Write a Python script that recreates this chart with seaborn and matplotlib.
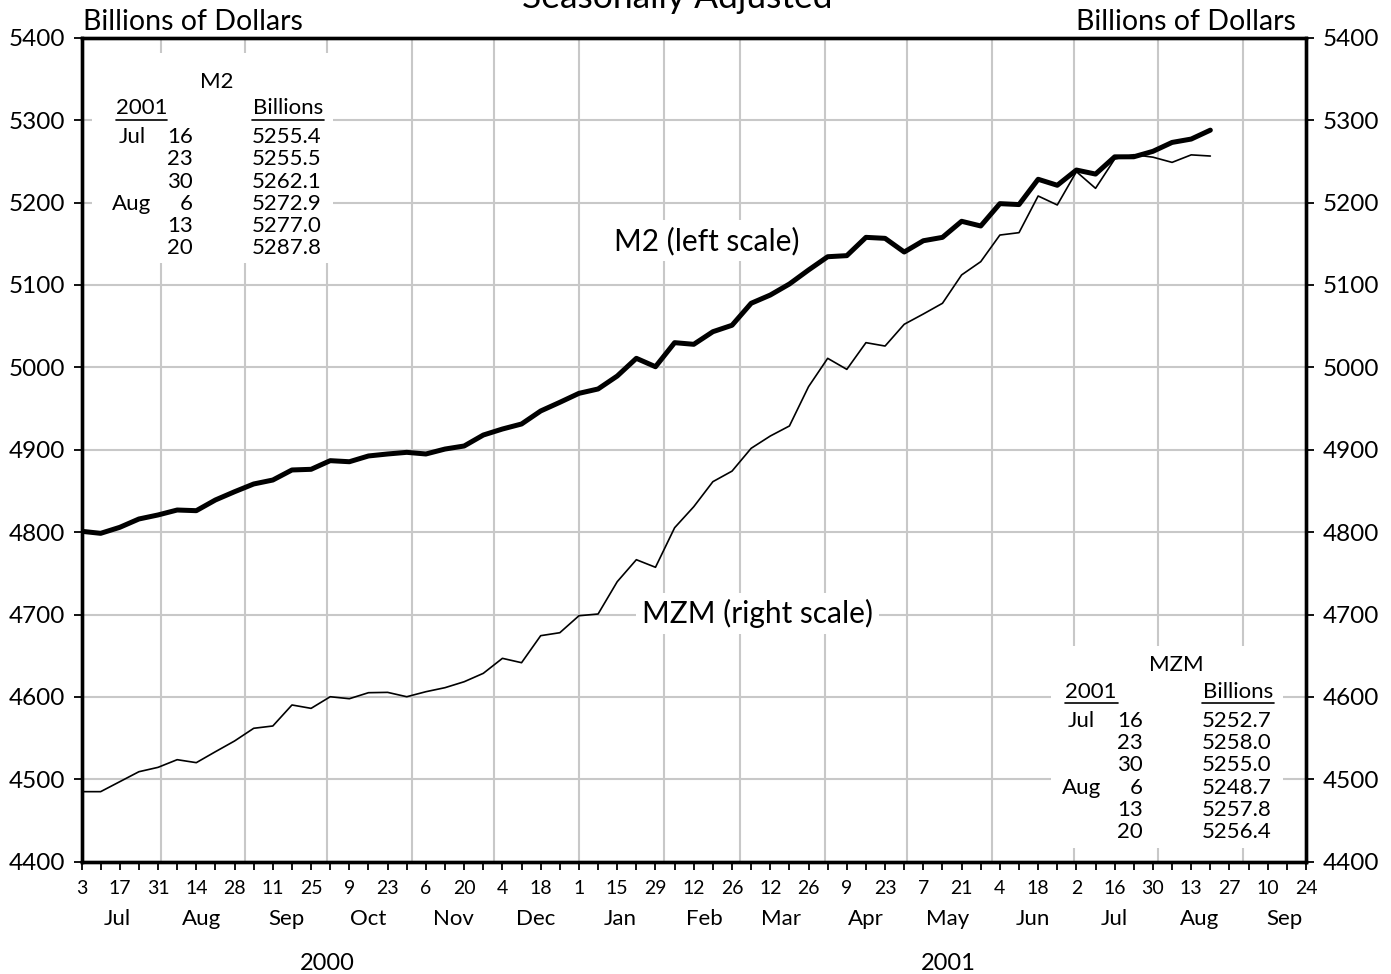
import matplotlib
matplotlib.use("Agg")
import matplotlib.pyplot as plt
import matplotlib.dates as mdates
import matplotlib.ticker as mticker
from matplotlib.lines import Line2D
from matplotlib.patches import Rectangle
import pandas as pd
import seaborn as sns

# weekly levels, billions of dollars, weeks ending Mondays from 2000-07-03
m2_values = [
    4801.0, 4798.5, 4805.8, 4815.9, 4820.8, 4826.8, 4826.0, 4839.0, 4849.0, 4858.4,
    4863.2, 4875.4, 4876.2, 4886.7, 4885.4, 4892.4, 4894.8, 4896.8, 4894.8, 4900.8,
    4904.5, 4917.8, 4925.1, 4931.2, 4947.0, 4957.5, 4968.4, 4973.7, 4989.4, 5010.9,
    5000.7, 5029.9, 5027.9, 5043.2, 5051.0, 5077.7, 5087.7, 5101.1, 5118.1, 5134.2,
    5135.5, 5157.7, 5156.5, 5139.9, 5153.6, 5157.7, 5177.2, 5171.5, 5198.6, 5197.5,
    5228.2, 5220.9, 5239.4, 5234.5, 5255.4, 5255.5, 5262.1, 5272.9, 5277.0, 5287.8,
]
mzm_values = [
    4485.0, 4485.0, 4497.1, 4509.2, 4514.5, 4523.8, 4520.2, 4533.5, 4546.5, 4561.9,
    4564.7, 4590.2, 4586.1, 4600.2, 4597.8, 4605.1, 4605.5, 4600.2, 4606.3, 4611.2,
    4618.4, 4628.6, 4646.8, 4641.5, 4674.3, 4677.9, 4698.5, 4700.6, 4739.8, 4766.5,
    4757.3, 4805.3, 4830.8, 4861.2, 4874.0, 4901.7, 4916.6, 4928.8, 4976.5, 5010.9,
    4997.5, 5029.9, 5025.8, 5052.2, 5064.7, 5077.7, 5112.1, 5128.2, 5160.5, 5163.4,
    5207.9, 5197.0, 5237.4, 5217.2, 5252.7, 5258.0, 5255.0, 5248.7, 5257.8, 5256.4,
]
weeks = pd.date_range("2000-07-03", periods=len(m2_values), freq="W-MON")

table_months = ["Jul", "", "", "Aug", "", ""]
table_days = ["16", "23", "30", "6", "13", "20"]
m2_table = ["5255.4", "5255.5", "5262.1", "5272.9", "5277.0", "5287.8"]
mzm_table = ["5252.7", "5258.0", "5255.0", "5248.7", "5257.8", "5256.4"]

month_names = ["Jul", "Aug", "Sep", "Oct", "Nov", "Dec", "Jan", "Feb", "Mar",
               "Apr", "May", "Jun", "Jul", "Aug", "Sep"]
year_labels = ["2000", "2001"]
year_centers = [pd.Timestamp("2000-10-01"), pd.Timestamp("2001-05-16")]

x_start, x_end = pd.Timestamp("2000-07-03"), pd.Timestamp("2001-09-24")
y_ticks = list(range(4400, 5401, 100))

W, H = 1391, 974
GRID = "#c8c8c8"


def fx(px):
    return px / W


def fy(py):
    return 1 - py / H


sns.set_style("ticks")
plt.rcParams["font.family"] = ["Lato", "DejaVu Sans"]
plt.rcParams["font.weight"] = "normal"
for key in ("text.color", "xtick.color", "ytick.color", "axes.labelcolor"):
    plt.rcParams[key] = "black"

fig = plt.figure(figsize=(W / 100, H / 100), dpi=100)
ax = fig.add_axes([fx(81.5), fy(861.7), fx(1306) - fx(81.5), fy(37.7) - fy(861.7)])
ax2 = ax.twinx()

sns.lineplot(x=weeks, y=m2_values, ax=ax, color="black", linewidth=3.6, zorder=4)
sns.lineplot(x=weeks, y=mzm_values, ax=ax2, color="black", linewidth=1.2, zorder=4)

for a in (ax, ax2):
    a.set_ylim(4400, 5400)
    a.set_yticks(y_ticks)
    a.set_ylabel("")
    a.set_xlabel("")
ax.set_xlim(x_start, x_end)
ax.set_axisbelow(True)
ax.yaxis.grid(True, color=GRID, linewidth=1.5)
for m in pd.date_range("2000-08-01", "2001-09-01", freq="MS"):
    ax.axvline(m, color=GRID, linewidth=1.5, zorder=0.5)

ax.xaxis.set_major_locator(mticker.FixedLocator(
    mdates.date2num(pd.date_range(x_start, x_end, freq="2W-MON"))))
ax.xaxis.set_minor_locator(mticker.FixedLocator(
    mdates.date2num(pd.date_range(x_start, x_end, freq="W-MON"))))
ax.xaxis.set_major_formatter(mticker.FuncFormatter(
    lambda v, p: str(mdates.num2date(v).day)))

ax.tick_params(axis="x", which="both", direction="out", length=6, width=1.3,
               pad=7, labelsize=14)
ax.tick_params(axis="y", direction="out", length=6, width=1.3, pad=6,
               labelsize=17.5, left=True, right=False)
ax2.tick_params(axis="y", direction="out", length=6, width=1.3, pad=6,
                labelsize=17.5, right=True)
for a in (ax, ax2):
    for s in a.spines.values():
        s.set_visible(True)
        s.set_linewidth(2.4)
        s.set_color("black")

xtrans = ax.get_xaxis_transform()
for i, name in enumerate(month_names):
    pos = pd.Timestamp("2000-07-01") + pd.DateOffset(months=i, days=15)
    ax.text(pos, -0.077, name, transform=xtrans, ha="center", va="baseline", fontsize=16)
for lab, pos in zip(year_labels, year_centers):
    ax.text(pos, -0.131, lab, transform=xtrans, ha="center", va="baseline", fontsize=17)

fig.text(fx(677), fy(8.5), "Seasonally Adjusted", ha="center", va="baseline", fontsize=25.5)
fig.text(fx(83), fy(30), "Billions of Dollars", ha="left", va="baseline", fontsize=20.5)
fig.text(fx(1296), fy(30), "Billions of Dollars", ha="right", va="baseline", fontsize=20.5)

box = dict(boxstyle="square,pad=0.2", facecolor="white", edgecolor="none")
fig.text(fx(706.7), fy(250), "M2 (left scale)", ha="center", va="baseline",
         fontsize=21.5, bbox=box)
fig.text(fx(757.7), fy(623.3), "MZM (right scale)", ha="center", va="baseline",
         fontsize=21.5, bbox=box)


def value_table(title, values, left, top, right, bottom, title_x, title_y,
                month_x, day_x, val_x, head_y, year_line, bill_line):
    ax.add_patch(Rectangle((fx(left), fy(bottom)), fx(right) - fx(left),
                           fy(top) - fy(bottom), transform=fig.transFigure,
                           facecolor="white", edgecolor="none", zorder=1,
                           clip_on=False))
    fig.text(fx(title_x), fy(title_y), title, ha="center", va="baseline", fontsize=16)
    fig.text(fx(year_line[0]), fy(head_y), "2001", ha="left", va="baseline", fontsize=16)
    fig.text(fx(bill_line[0] + 1), fy(head_y), "Billions", ha="left", va="baseline",
             fontsize=16)
    for x0, x1 in (year_line[:2], bill_line[:2]):
        fig.add_artist(Line2D([fx(x0), fx(x1)], [fy(year_line[2])] * 2,
                              transform=fig.transFigure, color="black", linewidth=1.2))
    for i, (mo, d, v) in enumerate(zip(table_months, table_days, values)):
        yb = head_y + 28.6 + 22.2 * i
        if mo:
            fig.text(fx(month_x), fy(yb), mo, ha="center", va="baseline", fontsize=16)
        fig.text(fx(day_x), fy(yb), d, ha="right", va="baseline", fontsize=16)
        fig.text(fx(val_x), fy(yb), v, ha="right", va="baseline", fontsize=16)


value_table("M2", m2_table, 92, 53, 333, 263, 216.5, 88, 132, 193, 321.5, 114.5,
            (116, 167.4, 120), (252, 324, 120))
value_table("MZM", mzm_table, 1051, 646, 1283, 848, 1176.7, 671, 1081.7, 1142.7,
            1271.7, 698.3, (1065, 1118.3, 702.7), (1201.7, 1274, 702.7))

fig.savefig("out.png", dpi=100)
